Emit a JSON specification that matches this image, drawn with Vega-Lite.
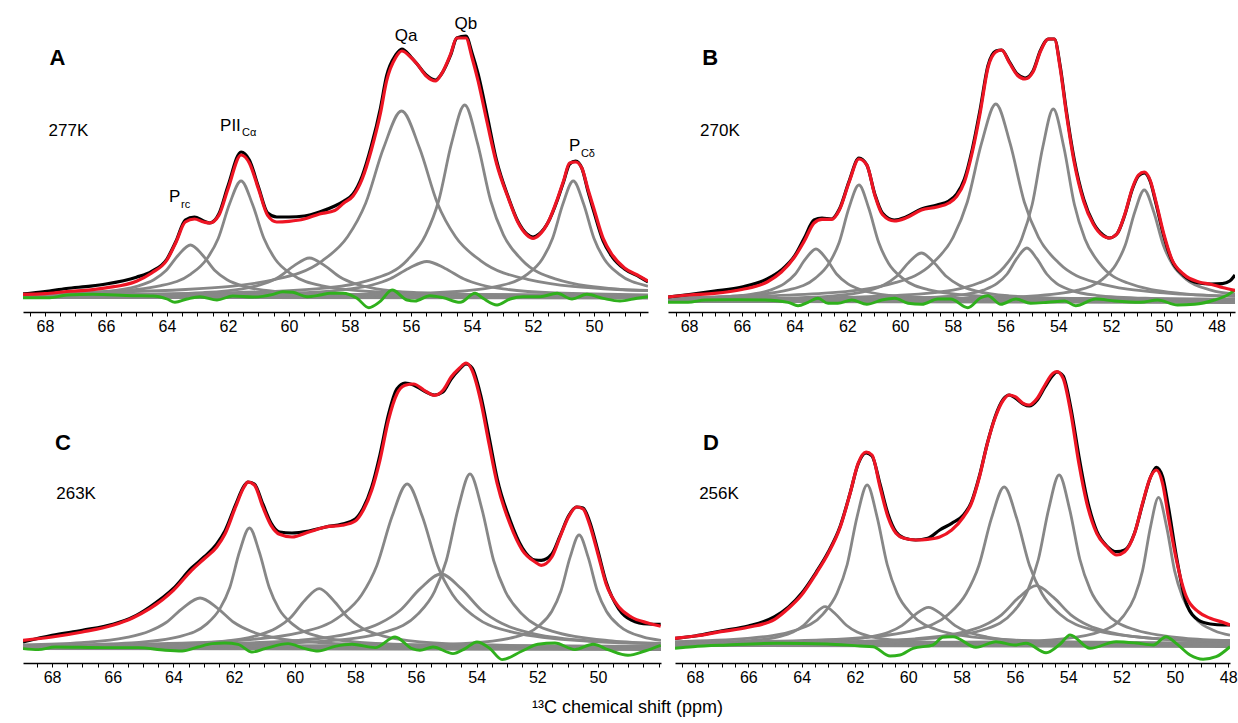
{
"$schema":"https://vega.github.io/schema/vega-lite/v6.json",
"padding":{"left":18,"top":10,"right":0,"bottom":0},
"background":"white",
"config":{"view":{"stroke":null},"font":"Liberation Sans",
"axisX":{"domainColor":"#000","domainWidth":1.3,"tickColor":"#000","tickWidth":1,"tickSize":4,"labelFontSize":16,"labelColor":"#000","labelPadding":2,"grid":false,"title":null,"labelOverlap":false,"labelFlush":false,"labelBound":false,"minExtent":22,"maxExtent":22,"labelFont":"Liberation Sans"}},
"title":{"text":"¹³C chemical shift (ppm)","orient":"bottom","anchor":"middle","fontSize":18,"fontWeight":"normal","font":"Liberation Sans","color":"#000","offset":14},
"spacing":11,
"vconcat":[
{"hconcat":[
{"width":625,"height":302,"data":{"name":"A"},
"encoding":{"x":{"field":"x","type":"quantitative","scale":{"domain":[68.72,48.23],"nice":false,"zero":false},"axis":{"values":[68.5,68,67.5,67,66.5,66,65.5,65,64.5,64,63.5,63,62.5,62,61.5,61,60.5,60,59.5,59,58.5,58,57.5,57,56.5,56,55.5,55,54.5,54,53.5,53,52.5,52,51.5,51,50.5,50,49.5,49,48.5],"labelExpr":"datum.value % 2 === 0 ? '' + datum.value : ''"}},
"y":{"field":"y","type":"quantitative","scale":{"domain":[-16,286],"nice":false,"zero":false},"axis":{"domain":false,"ticks":false,"labels":false,"grid":false,"title":null,"minExtent":5,"maxExtent":5}}},
"layer":[
{"transform":[{"filter":"indexof(datum.s,'g')===0"}],"mark":{"type":"line","color":"#878787","strokeWidth":2.8,"interpolate":"monotone","clip":true},"encoding":{"detail":{"field":"s"}}},
{"transform":[{"filter":"datum.s==='r'"}],"mark":{"type":"line","color":"#2fb01c","strokeWidth":2.9,"interpolate":"monotone","clip":true},"encoding":{}},
{"transform":[{"filter":"datum.s==='e'"}],"mark":{"type":"line","color":"#000000","strokeWidth":3.2,"interpolate":"monotone","clip":true},"encoding":{}},
{"transform":[{"filter":"datum.s==='f'"}],"mark":{"type":"line","color":"#ee1524","strokeWidth":3.2,"interpolate":"monotone","clip":true},"encoding":{}},
{"transform":[{"filter":"datum.s==='L'"}],"mark":{"type":"text","fontSize":22,"fontWeight":"bold","align":"center","baseline":"alphabetic","color":"#000"},"encoding":{"text":{"field":"t"}}},
{"transform":[{"filter":"datum.s==='T' || datum.s==='N'"}],"mark":{"type":"text","fontSize":17,"align":"center","baseline":"alphabetic","color":"#000"},"encoding":{"text":{"field":"t"}}},
{"transform":[{"filter":"datum.s==='M'"}],"mark":{"type":"text","fontSize":17,"align":"left","baseline":"alphabetic","color":"#000"},"encoding":{"text":{"field":"t"}}},
{"transform":[{"filter":"datum.s==='S'"}],"mark":{"type":"text","fontSize":11,"align":"left","baseline":"alphabetic","color":"#000"},"encoding":{"text":{"field":"t"}}}
]},
{"width":567,"height":302,"data":{"name":"B"},
"encoding":{"x":{"field":"x","type":"quantitative","scale":{"domain":[68.8,47.3],"nice":false,"zero":false},"axis":{"values":[68.5,68,67.5,67,66.5,66,65.5,65,64.5,64,63.5,63,62.5,62,61.5,61,60.5,60,59.5,59,58.5,58,57.5,57,56.5,56,55.5,55,54.5,54,53.5,53,52.5,52,51.5,51,50.5,50,49.5,49,48.5,48,47.5],"labelExpr":"datum.value % 2 === 0 ? '' + datum.value : ''"}},
"y":{"field":"y","type":"quantitative","scale":{"domain":[-12,290],"nice":false,"zero":false},"axis":null}},
"layer":[
{"transform":[{"filter":"indexof(datum.s,'g')===0"}],"mark":{"type":"line","color":"#878787","strokeWidth":2.8,"interpolate":"monotone","clip":true},"encoding":{"detail":{"field":"s"}}},
{"transform":[{"filter":"datum.s==='r'"}],"mark":{"type":"line","color":"#2fb01c","strokeWidth":2.9,"interpolate":"monotone","clip":true},"encoding":{}},
{"transform":[{"filter":"datum.s==='e'"}],"mark":{"type":"line","color":"#000000","strokeWidth":3.2,"interpolate":"monotone","clip":true},"encoding":{}},
{"transform":[{"filter":"datum.s==='f'"}],"mark":{"type":"line","color":"#ee1524","strokeWidth":3.2,"interpolate":"monotone","clip":true},"encoding":{}},
{"transform":[{"filter":"datum.s==='L'"}],"mark":{"type":"text","fontSize":22,"fontWeight":"bold","align":"center","baseline":"alphabetic","color":"#000"},"encoding":{"text":{"field":"t"}}},
{"transform":[{"filter":"datum.s==='T'"}],"mark":{"type":"text","fontSize":17,"align":"center","baseline":"alphabetic","color":"#000"},"encoding":{"text":{"field":"t"}}}
]}
],"spacing":20},
{"hconcat":[
{"width":638,"height":318,"data":{"name":"C"},
"encoding":{"x":{"field":"x","type":"quantitative","scale":{"domain":[68.96,47.92],"nice":false,"zero":false},"axis":{"values":[68.5,68,67.5,67,66.5,66,65.5,65,64.5,64,63.5,63,62.5,62,61.5,61,60.5,60,59.5,59,58.5,58,57.5,57,56.5,56,55.5,55,54.5,54,53.5,53,52.5,52,51.5,51,50.5,50,49.5,49,48.5,48],"labelExpr":"datum.value % 2 === 0 && datum.value > 49 ? '' + datum.value : ''"}},
"y":{"field":"y","type":"quantitative","scale":{"domain":[-16,302],"nice":false,"zero":false},"axis":null}},
"layer":[
{"transform":[{"filter":"indexof(datum.s,'g')===0"}],"mark":{"type":"line","color":"#878787","strokeWidth":2.8,"interpolate":"monotone","clip":true},"encoding":{"detail":{"field":"s"}}},
{"transform":[{"filter":"datum.s==='r'"}],"mark":{"type":"line","color":"#2fb01c","strokeWidth":2.9,"interpolate":"monotone","clip":true},"encoding":{}},
{"transform":[{"filter":"datum.s==='e'"}],"mark":{"type":"line","color":"#000000","strokeWidth":3.2,"interpolate":"monotone","clip":true},"encoding":{}},
{"transform":[{"filter":"datum.s==='f'"}],"mark":{"type":"line","color":"#ee1524","strokeWidth":3.2,"interpolate":"monotone","clip":true},"encoding":{}},
{"transform":[{"filter":"datum.s==='L'"}],"mark":{"type":"text","fontSize":22,"fontWeight":"bold","align":"center","baseline":"alphabetic","color":"#000"},"encoding":{"text":{"field":"t"}}},
{"transform":[{"filter":"datum.s==='T'"}],"mark":{"type":"text","fontSize":17,"align":"center","baseline":"alphabetic","color":"#000"},"encoding":{"text":{"field":"t"}}}
]},
{"width":555,"height":318,"data":{"name":"D"},
"encoding":{"x":{"field":"x","type":"quantitative","scale":{"domain":[68.75,47.93],"nice":false,"zero":false},"axis":{"values":[68.5,68,67.5,67,66.5,66,65.5,65,64.5,64,63.5,63,62.5,62,61.5,61,60.5,60,59.5,59,58.5,58,57.5,57,56.5,56,55.5,55,54.5,54,53.5,53,52.5,52,51.5,51,50.5,50,49.5,49,48.5,48],"labelExpr":"datum.value % 2 === 0 ? '' + datum.value : ''"}},
"y":{"field":"y","type":"quantitative","scale":{"domain":[-19,299],"nice":false,"zero":false},"axis":null}},
"layer":[
{"transform":[{"filter":"indexof(datum.s,'g')===0"}],"mark":{"type":"line","color":"#878787","strokeWidth":2.8,"interpolate":"monotone","clip":true},"encoding":{"detail":{"field":"s"}}},
{"transform":[{"filter":"datum.s==='r'"}],"mark":{"type":"line","color":"#2fb01c","strokeWidth":2.9,"interpolate":"monotone","clip":true},"encoding":{}},
{"transform":[{"filter":"datum.s==='e'"}],"mark":{"type":"line","color":"#000000","strokeWidth":3.2,"interpolate":"monotone","clip":true},"encoding":{}},
{"transform":[{"filter":"datum.s==='f'"}],"mark":{"type":"line","color":"#ee1524","strokeWidth":3.2,"interpolate":"monotone","clip":true},"encoding":{}},
{"transform":[{"filter":"datum.s==='L'"}],"mark":{"type":"text","fontSize":22,"fontWeight":"bold","align":"center","baseline":"alphabetic","color":"#000"},"encoding":{"text":{"field":"t"}}},
{"transform":[{"filter":"datum.s==='T'"}],"mark":{"type":"text","fontSize":17,"align":"center","baseline":"alphabetic","color":"#000"},"encoding":{"text":{"field":"t"}}}
]}
],"spacing":14}
],
"datasets":{
"A":[
{"s":"L","t":"A","x":67.59,"y":231},{"s":"T","t":"277K","x":67.23,"y":160},
{"s":"N","t":"Qa","x":56.16,"y":255},{"s":"N","t":"Qb","x":54.2,"y":267},
{"s":"M","t":"PII","x":62.26,"y":165},{"s":"S","t":"Cα","x":61.54,"y":160},
{"s":"M","t":"P","x":63.93,"y":94},{"s":"S","t":"rc","x":63.54,"y":88},
{"s":"M","t":"P","x":50.82,"y":145},{"s":"S","t":"Cδ","x":50.43,"y":139},
{"s":"g0","x":68.72,"y":0},{"s":"g0","x":48.23,"y":0},
{"s":"g8","x":68.72,"y":-1.5},{"s":"g8","x":48.23,"y":-2},
{"s":"g1","x":68.72,"y":1.5},{"s":"g1","x":68.03,"y":1.8},{"s":"g1","x":66.03,"y":4.6},{"s":"g1","x":64.99,"y":9.7},{"s":"g1","x":64.43,"y":16.3},{"s":"g1","x":64.03,"y":25.5},{"s":"g1","x":63.63,"y":40.8},{"s":"g1","x":63.23,"y":51},{"s":"g1","x":62.83,"y":40.8},{"s":"g1","x":62.43,"y":25.5},{"s":"g1","x":62.03,"y":16.3},{"s":"g1","x":61.47,"y":9.7},{"s":"g1","x":60.43,"y":4.6},{"s":"g1","x":58.43,"y":1.8},{"s":"g1","x":55.23,"y":0.7},{"s":"g1","x":48.23,"y":0.2},
{"s":"g2","x":68.72,"y":1.8},{"s":"g2","x":66.07,"y":4.0},{"s":"g2","x":64.2,"y":10.4},{"s":"g2","x":63.22,"y":21.9},{"s":"g2","x":62.7,"y":36.8},{"s":"g2","x":62.32,"y":57.5},{"s":"g2","x":61.95,"y":92},{"s":"g2","x":61.57,"y":115},{"s":"g2","x":61.2,"y":92},{"s":"g2","x":60.82,"y":57.5},{"s":"g2","x":60.45,"y":36.8},{"s":"g2","x":59.92,"y":21.9},{"s":"g2","x":58.95,"y":10.4},{"s":"g2","x":57.07,"y":4.0},{"s":"g2","x":54.07,"y":1.6},{"s":"g2","x":48.23,"y":0.5},
{"s":"g3","x":68.72,"y":0.6},{"s":"g3","x":65.33,"y":1.3},{"s":"g3","x":62.83,"y":3.4},{"s":"g3","x":61.53,"y":7.2},{"s":"g3","x":60.83,"y":12.2},{"s":"g3","x":60.33,"y":19},{"s":"g3","x":59.83,"y":30.4},{"s":"g3","x":59.33,"y":38},{"s":"g3","x":58.83,"y":30.4},{"s":"g3","x":58.33,"y":19},{"s":"g3","x":57.83,"y":12.2},{"s":"g3","x":57.13,"y":7.2},{"s":"g3","x":55.83,"y":3.4},{"s":"g3","x":53.33,"y":1.3},{"s":"g3","x":49.33,"y":0.5},{"s":"g3","x":48.23,"y":0.4},
{"s":"g4","x":68.72,"y":2.4},{"s":"g4","x":68.11,"y":2.6},{"s":"g4","x":63.39,"y":6.5},{"s":"g4","x":60.44,"y":16.7},{"s":"g4","x":58.91,"y":35.2},{"s":"g4","x":58.08,"y":59.2},{"s":"g4","x":57.49,"y":92.5},{"s":"g4","x":56.9,"y":148},{"s":"g4","x":56.31,"y":185},{"s":"g4","x":55.72,"y":148},{"s":"g4","x":55.13,"y":92.5},{"s":"g4","x":54.54,"y":59.2},{"s":"g4","x":53.71,"y":35.2},{"s":"g4","x":52.18,"y":16.7},{"s":"g4","x":49.23,"y":6.5},{"s":"g4","x":48.23,"y":5.5},
{"s":"g5","x":68.72,"y":0.4},{"s":"g5","x":67.48,"y":0.5},{"s":"g5","x":62.68,"y":1.2},{"s":"g5","x":59.68,"y":3.1},{"s":"g5","x":58.12,"y":6.6},{"s":"g5","x":57.28,"y":11},{"s":"g5","x":56.68,"y":17.3},{"s":"g5","x":56.08,"y":27.6},{"s":"g5","x":55.48,"y":34.5},{"s":"g5","x":54.88,"y":27.6},{"s":"g5","x":54.28,"y":17.3},{"s":"g5","x":53.68,"y":11},{"s":"g5","x":52.84,"y":6.6},{"s":"g5","x":51.28,"y":3.1},{"s":"g5","x":48.23,"y":1.2},
{"s":"g6","x":68.72,"y":0.9},{"s":"g6","x":62.74,"y":2.7},{"s":"g6","x":59.34,"y":6.7},{"s":"g6","x":57.22,"y":17.2},{"s":"g6","x":56.11,"y":36.3},{"s":"g6","x":55.52,"y":61.1},{"s":"g6","x":55.09,"y":95.5},{"s":"g6","x":54.67,"y":152.8},{"s":"g6","x":54.24,"y":191},{"s":"g6","x":53.82,"y":152.8},{"s":"g6","x":53.39,"y":95.5},{"s":"g6","x":52.97,"y":61.1},{"s":"g6","x":52.37,"y":36.3},{"s":"g6","x":51.27,"y":17.2},{"s":"g6","x":49.14,"y":6.7},{"s":"g6","x":48.23,"y":5.3},
{"s":"g7","x":68.72,"y":0.2},{"s":"g7","x":57.48,"y":1.6},{"s":"g7","x":54.76,"y":4},{"s":"g7","x":53.06,"y":10.4},{"s":"g7","x":52.18,"y":21.9},{"s":"g7","x":51.7,"y":36.8},{"s":"g7","x":51.36,"y":57.5},{"s":"g7","x":51.02,"y":92},{"s":"g7","x":50.68,"y":115},{"s":"g7","x":50.34,"y":92},{"s":"g7","x":50.0,"y":57.5},{"s":"g7","x":49.66,"y":36.8},{"s":"g7","x":49.18,"y":21.9},{"s":"g7","x":48.3,"y":10.4},{"s":"g7","x":48.23,"y":9.9},
{"s":"r","x":68.72,"y":-1.7},{"s":"r","x":67.84,"y":-1.7},{"s":"r","x":67.29,"y":1},{"s":"r","x":66.43,"y":1.7},{"s":"r","x":65.11,"y":0.3},{"s":"r","x":64.46,"y":0},{"s":"r","x":64.0,"y":-3},{"s":"r","x":63.74,"y":-6.3},{"s":"r","x":63.34,"y":-3},{"s":"r","x":62.92,"y":-0.7},{"s":"r","x":62.36,"y":-4},{"s":"r","x":61.84,"y":0},{"s":"r","x":61.18,"y":-1},{"s":"r","x":60.52,"y":1.7},{"s":"r","x":60.2,"y":4.3},{"s":"r","x":59.87,"y":3.7},{"s":"r","x":59.41,"y":-0.7},{"s":"r","x":58.98,"y":1},{"s":"r","x":58.66,"y":2.7},{"s":"r","x":58.23,"y":2.7},{"s":"r","x":57.77,"y":-2.3},{"s":"r","x":57.38,"y":-11.7},{"s":"r","x":57.02,"y":-5.7},{"s":"r","x":56.62,"y":6},{"s":"r","x":56.13,"y":-4},{"s":"r","x":55.87,"y":-5},{"s":"r","x":55.38,"y":0.3},{"s":"r","x":54.95,"y":-1.7},{"s":"r","x":54.39,"y":-6.3},{"s":"r","x":53.9,"y":2.7},{"s":"r","x":53.64,"y":-2.3},{"s":"r","x":53.18,"y":-9},{"s":"r","x":52.75,"y":-3},{"s":"r","x":52.33,"y":-0.7},{"s":"r","x":51.77,"y":-0.7},{"s":"r","x":51.21,"y":2.7},{"s":"r","x":50.72,"y":-3},{"s":"r","x":50.23,"y":1.7},{"s":"r","x":49.7,"y":-2.3},{"s":"r","x":49.15,"y":-5},{"s":"r","x":48.59,"y":-2.3},{"s":"r","x":48.23,"y":-0.7},
{"s":"e","x":68.72,"y":2},{"s":"e","x":68.0,"y":4.3},{"s":"e","x":67.3,"y":7.5},{"s":"e","x":66.5,"y":9.9},{"s":"e","x":66.0,"y":12},{"s":"e","x":65.0,"y":18.8},{"s":"e","x":64.5,"y":24.6},{"s":"e","x":64.0,"y":37},{"s":"e","x":63.7,"y":55},{"s":"e","x":63.4,"y":76},{"s":"e","x":63.1,"y":79},{"s":"e","x":62.8,"y":75},{"s":"e","x":62.6,"y":73},{"s":"e","x":62.3,"y":82},{"s":"e","x":62.0,"y":110},{"s":"e","x":61.57,"y":144},{"s":"e","x":61.3,"y":136},{"s":"e","x":61.0,"y":109},{"s":"e","x":60.7,"y":83},{"s":"e","x":60.4,"y":79},{"s":"e","x":60.0,"y":79},{"s":"e","x":59.5,"y":80},{"s":"e","x":59.0,"y":84},{"s":"e","x":58.5,"y":90},{"s":"e","x":58.2,"y":95},{"s":"e","x":57.9,"y":102},{"s":"e","x":57.6,"y":120},{"s":"e","x":57.3,"y":150},{"s":"e","x":57.0,"y":188},{"s":"e","x":56.8,"y":220},{"s":"e","x":56.5,"y":241},{"s":"e","x":56.3,"y":247},{"s":"e","x":56.0,"y":239},{"s":"e","x":55.8,"y":232},{"s":"e","x":55.5,"y":221},{"s":"e","x":55.2,"y":216},{"s":"e","x":55.0,"y":222},{"s":"e","x":54.7,"y":241},{"s":"e","x":54.5,"y":258},{"s":"e","x":54.2,"y":260},{"s":"e","x":54.0,"y":243},{"s":"e","x":53.8,"y":222},{"s":"e","x":53.5,"y":180},{"s":"e","x":53.2,"y":136},{"s":"e","x":52.8,"y":98},{"s":"e","x":52.5,"y":75},{"s":"e","x":52.2,"y":62},{"s":"e","x":52.0,"y":59},{"s":"e","x":51.8,"y":62},{"s":"e","x":51.5,"y":74},{"s":"e","x":51.2,"y":96},{"s":"e","x":51.0,"y":114},{"s":"e","x":50.8,"y":132},{"s":"e","x":50.6,"y":135},{"s":"e","x":50.4,"y":128},{"s":"e","x":50.2,"y":105},{"s":"e","x":50.0,"y":84},{"s":"e","x":49.7,"y":55},{"s":"e","x":49.4,"y":39},{"s":"e","x":49.0,"y":27},{"s":"e","x":48.5,"y":19},{"s":"e","x":48.23,"y":14},
{"s":"f","x":68.72,"y":1.6},{"s":"f","x":68.0,"y":2.3},{"s":"f","x":67.3,"y":4.5},{"s":"f","x":66.5,"y":6.2},{"s":"f","x":66.0,"y":8.2},{"s":"f","x":65.0,"y":14.8},{"s":"f","x":64.5,"y":23},{"s":"f","x":64.0,"y":36},{"s":"f","x":63.7,"y":54},{"s":"f","x":63.4,"y":74},{"s":"f","x":63.1,"y":77},{"s":"f","x":62.8,"y":74},{"s":"f","x":62.6,"y":73},{"s":"f","x":62.3,"y":80.6},{"s":"f","x":62.0,"y":107},{"s":"f","x":61.57,"y":141},{"s":"f","x":61.3,"y":133},{"s":"f","x":61.0,"y":107},{"s":"f","x":60.7,"y":80.6},{"s":"f","x":60.4,"y":74},{"s":"f","x":60.0,"y":74.7},{"s":"f","x":59.5,"y":77},{"s":"f","x":59.0,"y":82},{"s":"f","x":58.5,"y":85.5},{"s":"f","x":58.2,"y":93},{"s":"f","x":57.9,"y":100},{"s":"f","x":57.6,"y":117},{"s":"f","x":57.3,"y":146},{"s":"f","x":57.0,"y":183},{"s":"f","x":56.8,"y":215},{"s":"f","x":56.5,"y":238.5},{"s":"f","x":56.3,"y":245},{"s":"f","x":56.0,"y":238.5},{"s":"f","x":55.8,"y":232},{"s":"f","x":55.5,"y":220},{"s":"f","x":55.2,"y":215},{"s":"f","x":55.0,"y":222},{"s":"f","x":54.7,"y":242},{"s":"f","x":54.5,"y":258},{"s":"f","x":54.2,"y":258},{"s":"f","x":54.0,"y":238.5},{"s":"f","x":53.8,"y":215},{"s":"f","x":53.5,"y":173},{"s":"f","x":53.2,"y":133},{"s":"f","x":52.8,"y":97},{"s":"f","x":52.5,"y":74},{"s":"f","x":52.2,"y":61},{"s":"f","x":52.0,"y":57.6},{"s":"f","x":51.8,"y":61},{"s":"f","x":51.5,"y":74},{"s":"f","x":51.2,"y":97},{"s":"f","x":51.0,"y":115},{"s":"f","x":50.8,"y":133},{"s":"f","x":50.6,"y":134},{"s":"f","x":50.4,"y":128},{"s":"f","x":50.2,"y":107},{"s":"f","x":50.0,"y":87},{"s":"f","x":49.7,"y":57.6},{"s":"f","x":49.4,"y":41},{"s":"f","x":49.0,"y":28},{"s":"f","x":48.5,"y":19.7},{"s":"f","x":48.23,"y":14.8}
],
"B":[
{"s":"L","t":"B","x":67.2,"y":235},{"s":"T","t":"270K","x":66.83,"y":164},
{"s":"g0","x":68.8,"y":0},{"s":"g0","x":47.3,"y":0},
{"s":"g8","x":68.8,"y":-1.5},{"s":"g8","x":47.3,"y":-2.5},
{"s":"g1","x":68.8,"y":1.4},{"s":"g1","x":67.99,"y":1.8},{"s":"g1","x":65.99,"y":4.6},{"s":"g1","x":64.95,"y":9.7},{"s":"g1","x":64.39,"y":16.3},{"s":"g1","x":63.99,"y":25.5},{"s":"g1","x":63.59,"y":40.8},{"s":"g1","x":63.19,"y":51},{"s":"g1","x":62.79,"y":40.8},{"s":"g1","x":62.39,"y":25.5},{"s":"g1","x":61.99,"y":16.3},{"s":"g1","x":61.43,"y":9.7},{"s":"g1","x":60.39,"y":4.6},{"s":"g1","x":58.39,"y":1.8},{"s":"g1","x":55.19,"y":0.7},{"s":"g1","x":47.3,"y":0.2},
{"s":"g2","x":68.8,"y":1.7},{"s":"g2","x":66.06,"y":4.0},{"s":"g2","x":64.19,"y":10.4},{"s":"g2","x":63.21,"y":21.9},{"s":"g2","x":62.69,"y":36.8},{"s":"g2","x":62.31,"y":57.5},{"s":"g2","x":61.94,"y":92},{"s":"g2","x":61.56,"y":115},{"s":"g2","x":61.19,"y":92},{"s":"g2","x":60.81,"y":57.5},{"s":"g2","x":60.44,"y":36.8},{"s":"g2","x":59.91,"y":21.9},{"s":"g2","x":58.94,"y":10.4},{"s":"g2","x":57.06,"y":4.0},{"s":"g2","x":54.06,"y":1.6},{"s":"g2","x":47.3,"y":0.5},
{"s":"g3","x":68.8,"y":0.7},{"s":"g3","x":64.89,"y":1.6},{"s":"g3","x":62.52,"y":4.2},{"s":"g3","x":61.28,"y":8.9},{"s":"g3","x":60.62,"y":15},{"s":"g3","x":60.14,"y":23.5},{"s":"g3","x":59.67,"y":37.6},{"s":"g3","x":59.19,"y":47},{"s":"g3","x":58.72,"y":37.6},{"s":"g3","x":58.24,"y":23.5},{"s":"g3","x":57.77,"y":15},{"s":"g3","x":57.1,"y":8.9},{"s":"g3","x":55.87,"y":4.2},{"s":"g3","x":53.49,"y":1.6},{"s":"g3","x":49.69,"y":0.7},{"s":"g3","x":47.3,"y":0.4},
{"s":"g4","x":68.8,"y":2.1},{"s":"g4","x":67.17,"y":2.7},{"s":"g4","x":62.85,"y":6.9},{"s":"g4","x":60.15,"y":17.6},{"s":"g4","x":58.75,"y":37.2},{"s":"g4","x":57.99,"y":62.7},{"s":"g4","x":57.45,"y":98},{"s":"g4","x":56.91,"y":156.8},{"s":"g4","x":56.37,"y":196},{"s":"g4","x":55.83,"y":156.8},{"s":"g4","x":55.29,"y":98},{"s":"g4","x":54.75,"y":62.7},{"s":"g4","x":53.99,"y":37.2},{"s":"g4","x":52.59,"y":17.6},{"s":"g4","x":49.89,"y":6.9},{"s":"g4","x":47.3,"y":3.9},
{"s":"g5","x":68.8,"y":0.2},{"s":"g5","x":62.69,"y":0.7},{"s":"g5","x":59.69,"y":1.8},{"s":"g5","x":57.82,"y":4.7},{"s":"g5","x":56.84,"y":9.9},{"s":"g5","x":56.32,"y":16.6},{"s":"g5","x":55.94,"y":26},{"s":"g5","x":55.57,"y":41.6},{"s":"g5","x":55.19,"y":52},{"s":"g5","x":54.82,"y":41.6},{"s":"g5","x":54.44,"y":26},{"s":"g5","x":54.07,"y":16.6},{"s":"g5","x":53.54,"y":9.9},{"s":"g5","x":52.57,"y":4.7},{"s":"g5","x":50.69,"y":1.8},{"s":"g5","x":47.69,"y":0.7},{"s":"g5","x":47.3,"y":0.6},
{"s":"g6","x":68.8,"y":0.8},{"s":"g6","x":62.19,"y":2.7},{"s":"g6","x":58.99,"y":6.7},{"s":"g6","x":56.99,"y":17.2},{"s":"g6","x":55.95,"y":36.3},{"s":"g6","x":55.39,"y":61.1},{"s":"g6","x":54.99,"y":95.5},{"s":"g6","x":54.59,"y":152.8},{"s":"g6","x":54.19,"y":191},{"s":"g6","x":53.79,"y":152.8},{"s":"g6","x":53.39,"y":95.5},{"s":"g6","x":52.99,"y":61.1},{"s":"g6","x":52.43,"y":36.3},{"s":"g6","x":51.39,"y":17.2},{"s":"g6","x":49.39,"y":6.7},{"s":"g6","x":47.3,"y":3.6},
{"s":"g7","x":68.8,"y":0.2},{"s":"g7","x":57.94,"y":1.5},{"s":"g7","x":55.06,"y":3.9},{"s":"g7","x":53.26,"y":9.9},{"s":"g7","x":52.32,"y":20.9},{"s":"g7","x":51.82,"y":35.2},{"s":"g7","x":51.46,"y":55},{"s":"g7","x":51.1,"y":88},{"s":"g7","x":50.74,"y":110},{"s":"g7","x":50.38,"y":88},{"s":"g7","x":50.02,"y":55},{"s":"g7","x":49.66,"y":35.2},{"s":"g7","x":49.16,"y":20.9},{"s":"g7","x":48.22,"y":9.9},{"s":"g7","x":47.3,"y":6},
{"s":"r","x":68.8,"y":-2.3},{"s":"r","x":68.04,"y":-2.3},{"s":"r","x":67.39,"y":0},{"s":"r","x":66.14,"y":0.3},{"s":"r","x":65.12,"y":0},{"s":"r","x":64.25,"y":-2.3},{"s":"r","x":63.87,"y":-5.7},{"s":"r","x":63.49,"y":-2.3},{"s":"r","x":63.11,"y":1.7},{"s":"r","x":62.73,"y":-3.3},{"s":"r","x":62.36,"y":-3.3},{"s":"r","x":61.83,"y":0},{"s":"r","x":61.26,"y":-4.3},{"s":"r","x":60.69,"y":0},{"s":"r","x":60.2,"y":1.7},{"s":"r","x":59.7,"y":-3.3},{"s":"r","x":59.17,"y":-4.3},{"s":"r","x":58.57,"y":1},{"s":"r","x":58.08,"y":1},{"s":"r","x":57.43,"y":-7.7},{"s":"r","x":56.94,"y":2.3},{"s":"r","x":56.67,"y":4.3},{"s":"r","x":56.18,"y":-4.3},{"s":"r","x":55.61,"y":1},{"s":"r","x":55.05,"y":-3.3},{"s":"r","x":54.4,"y":-2.3},{"s":"r","x":53.76,"y":-1},{"s":"r","x":53.34,"y":-5.7},{"s":"r","x":52.58,"y":1},{"s":"r","x":51.86,"y":-1},{"s":"r","x":50.88,"y":-2.3},{"s":"r","x":50.23,"y":0},{"s":"r","x":49.48,"y":-5},{"s":"r","x":48.83,"y":-4.3},{"s":"r","x":48.08,"y":0},{"s":"r","x":47.58,"y":5},{"s":"r","x":47.3,"y":10},
{"s":"e","x":68.8,"y":3},{"s":"e","x":68.0,"y":5.5},{"s":"e","x":67.04,"y":8.9},{"s":"e","x":66.0,"y":13},{"s":"e","x":65.04,"y":21},{"s":"e","x":64.5,"y":30},{"s":"e","x":64.0,"y":44},{"s":"e","x":63.63,"y":62},{"s":"e","x":63.26,"y":80},{"s":"e","x":62.96,"y":82},{"s":"e","x":62.6,"y":81},{"s":"e","x":62.3,"y":91},{"s":"e","x":61.93,"y":119},{"s":"e","x":61.56,"y":142},{"s":"e","x":61.26,"y":135},{"s":"e","x":60.96,"y":106},{"s":"e","x":60.67,"y":87},{"s":"e","x":60.22,"y":80},{"s":"e","x":59.78,"y":83},{"s":"e","x":59.19,"y":91},{"s":"e","x":58.6,"y":95},{"s":"e","x":58.15,"y":99},{"s":"e","x":57.85,"y":106},{"s":"e","x":57.56,"y":121},{"s":"e","x":57.26,"y":151},{"s":"e","x":56.96,"y":191},{"s":"e","x":56.67,"y":234},{"s":"e","x":56.37,"y":249},{"s":"e","x":56.15,"y":250},{"s":"e","x":55.85,"y":238},{"s":"e","x":55.56,"y":226},{"s":"e","x":55.26,"y":222},{"s":"e","x":54.96,"y":229},{"s":"e","x":54.67,"y":250},{"s":"e","x":54.37,"y":261},{"s":"e","x":54.15,"y":261},{"s":"e","x":53.93,"y":234},{"s":"e","x":53.7,"y":190},{"s":"e","x":53.4,"y":141},{"s":"e","x":53.04,"y":101},{"s":"e","x":52.67,"y":77},{"s":"e","x":52.3,"y":65},{"s":"e","x":52.07,"y":62},{"s":"e","x":51.78,"y":66},{"s":"e","x":51.48,"y":85},{"s":"e","x":51.19,"y":111},{"s":"e","x":50.96,"y":124},{"s":"e","x":50.74,"y":127},{"s":"e","x":50.52,"y":119},{"s":"e","x":50.3,"y":97},{"s":"e","x":50.0,"y":64},{"s":"e","x":49.7,"y":40},{"s":"e","x":49.26,"y":25},{"s":"e","x":48.67,"y":17},{"s":"e","x":48.22,"y":16},{"s":"e","x":47.78,"y":16.4},{"s":"e","x":47.5,"y":19},{"s":"e","x":47.3,"y":25},
{"s":"f","x":68.8,"y":3},{"s":"f","x":68.0,"y":5},{"s":"f","x":67.04,"y":6.6},{"s":"f","x":66.0,"y":10.5},{"s":"f","x":65.04,"y":18},{"s":"f","x":64.5,"y":28},{"s":"f","x":64.0,"y":43},{"s":"f","x":63.63,"y":59},{"s":"f","x":63.26,"y":77},{"s":"f","x":62.96,"y":80.6},{"s":"f","x":62.6,"y":80.6},{"s":"f","x":62.3,"y":90},{"s":"f","x":61.93,"y":118},{"s":"f","x":61.56,"y":141},{"s":"f","x":61.26,"y":135},{"s":"f","x":60.96,"y":105},{"s":"f","x":60.67,"y":85.5},{"s":"f","x":60.22,"y":79},{"s":"f","x":59.78,"y":82},{"s":"f","x":59.19,"y":90},{"s":"f","x":58.6,"y":93},{"s":"f","x":58.15,"y":97},{"s":"f","x":57.85,"y":103.6},{"s":"f","x":57.56,"y":118},{"s":"f","x":57.26,"y":148},{"s":"f","x":56.96,"y":187.5},{"s":"f","x":56.67,"y":232},{"s":"f","x":56.37,"y":248},{"s":"f","x":56.15,"y":250},{"s":"f","x":55.85,"y":237},{"s":"f","x":55.56,"y":225},{"s":"f","x":55.26,"y":221},{"s":"f","x":54.96,"y":228},{"s":"f","x":54.67,"y":249},{"s":"f","x":54.37,"y":261},{"s":"f","x":54.15,"y":261},{"s":"f","x":53.93,"y":232},{"s":"f","x":53.7,"y":187.5},{"s":"f","x":53.4,"y":138},{"s":"f","x":53.04,"y":98.7},{"s":"f","x":52.67,"y":75.7},{"s":"f","x":52.3,"y":64},{"s":"f","x":52.07,"y":62},{"s":"f","x":51.78,"y":66},{"s":"f","x":51.48,"y":85.5},{"s":"f","x":51.19,"y":112},{"s":"f","x":50.96,"y":125},{"s":"f","x":50.74,"y":128},{"s":"f","x":50.52,"y":120},{"s":"f","x":50.3,"y":98.7},{"s":"f","x":50.0,"y":66},{"s":"f","x":49.7,"y":41},{"s":"f","x":49.26,"y":26},{"s":"f","x":48.67,"y":18},{"s":"f","x":48.22,"y":15.8},{"s":"f","x":47.78,"y":12.5},{"s":"f","x":47.3,"y":9.5}
],
"C":[
{"s":"L","t":"C","x":67.64,"y":197},{"s":"T","t":"263K","x":67.21,"y":148},
{"s":"g0","x":68.96,"y":0},{"s":"g0","x":47.92,"y":0},
{"s":"g8","x":68.96,"y":-1.5},{"s":"g8","x":47.92,"y":-2.5},
{"s":"g1","x":68.96,"y":2.2},{"s":"g1","x":67.04,"y":4.4},{"s":"g1","x":65.58,"y":9.3},{"s":"g1","x":64.8,"y":15.7},{"s":"g1","x":64.24,"y":24.5},{"s":"g1","x":63.68,"y":39.2},{"s":"g1","x":63.12,"y":49},{"s":"g1","x":62.56,"y":39.2},{"s":"g1","x":62.0,"y":24.5},{"s":"g1","x":61.44,"y":15.7},{"s":"g1","x":60.66,"y":9.3},{"s":"g1","x":59.2,"y":4.4},{"s":"g1","x":56.4,"y":1.7},{"s":"g1","x":51.92,"y":0.7},{"s":"g1","x":47.92,"y":0.4},
{"s":"g2","x":68.96,"y":1.3},{"s":"g2","x":67.99,"y":1.7},{"s":"g2","x":65.39,"y":4.2},{"s":"g2","x":63.77,"y":10.7},{"s":"g2","x":62.92,"y":22.6},{"s":"g2","x":62.47,"y":38.1},{"s":"g2","x":62.14,"y":59.5},{"s":"g2","x":61.82,"y":95.2},{"s":"g2","x":61.49,"y":119},{"s":"g2","x":61.17,"y":95.2},{"s":"g2","x":60.84,"y":59.5},{"s":"g2","x":60.52,"y":38.1},{"s":"g2","x":60.06,"y":22.6},{"s":"g2","x":59.22,"y":10.7},{"s":"g2","x":57.59,"y":4.2},{"s":"g2","x":54.99,"y":1.7},{"s":"g2","x":47.92,"y":0.4},
{"s":"g3","x":68.96,"y":0.8},{"s":"g3","x":64.89,"y":2.0},{"s":"g3","x":62.52,"y":5.2},{"s":"g3","x":61.28,"y":11.1},{"s":"g3","x":60.62,"y":18.7},{"s":"g3","x":60.14,"y":29.2},{"s":"g3","x":59.67,"y":46.6},{"s":"g3","x":59.19,"y":58.3},{"s":"g3","x":58.72,"y":46.6},{"s":"g3","x":58.24,"y":29.2},{"s":"g3","x":57.77,"y":18.7},{"s":"g3","x":57.1,"y":11.1},{"s":"g3","x":55.87,"y":5.2},{"s":"g3","x":53.49,"y":2.0},{"s":"g3","x":49.69,"y":0.8},{"s":"g3","x":47.92,"y":0.6},
{"s":"g4","x":68.96,"y":1.4},{"s":"g4","x":66.29,"y":2.3},{"s":"g4","x":62.29,"y":5.7},{"s":"g4","x":59.79,"y":14.7},{"s":"g4","x":58.49,"y":31},{"s":"g4","x":57.79,"y":52.2},{"s":"g4","x":57.29,"y":81.5},{"s":"g4","x":56.79,"y":130.4},{"s":"g4","x":56.29,"y":163},{"s":"g4","x":55.79,"y":130.4},{"s":"g4","x":55.29,"y":81.5},{"s":"g4","x":54.79,"y":52.2},{"s":"g4","x":54.09,"y":31},{"s":"g4","x":52.79,"y":14.7},{"s":"g4","x":50.29,"y":5.7},{"s":"g4","x":47.92,"y":3.3},
{"s":"g5","x":68.96,"y":0.9},{"s":"g5","x":68.68,"y":1.0},{"s":"g5","x":63.28,"y":2.6},{"s":"g5","x":59.91,"y":6.6},{"s":"g5","x":58.15,"y":13.9},{"s":"g5","x":57.21,"y":23.4},{"s":"g5","x":56.53,"y":36.5},{"s":"g5","x":55.86,"y":58.4},{"s":"g5","x":55.18,"y":73},{"s":"g5","x":54.51,"y":58.4},{"s":"g5","x":53.83,"y":36.5},{"s":"g5","x":53.16,"y":23.4},{"s":"g5","x":52.21,"y":13.9},{"s":"g5","x":50.46,"y":6.6},{"s":"g5","x":47.92,"y":3.3},
{"s":"g6","x":68.96,"y":0.7},{"s":"g6","x":62.02,"y":2.4},{"s":"g6","x":58.9,"y":6.1},{"s":"g6","x":56.95,"y":15.6},{"s":"g6","x":55.94,"y":32.9},{"s":"g6","x":55.39,"y":55.4},{"s":"g6","x":55.0,"y":86.5},{"s":"g6","x":54.61,"y":138.4},{"s":"g6","x":54.22,"y":173},{"s":"g6","x":53.83,"y":138.4},{"s":"g6","x":53.44,"y":86.5},{"s":"g6","x":53.05,"y":55.4},{"s":"g6","x":52.5,"y":32.9},{"s":"g6","x":51.49,"y":15.6},{"s":"g6","x":49.54,"y":6.1},{"s":"g6","x":47.92,"y":3.7},
{"s":"g7","x":68.96,"y":0.2},{"s":"g7","x":56.62,"y":1.6},{"s":"g7","x":54.22,"y":3.9},{"s":"g7","x":52.72,"y":10.1},{"s":"g7","x":51.94,"y":21.3},{"s":"g7","x":51.52,"y":35.8},{"s":"g7","x":51.22,"y":56},{"s":"g7","x":50.92,"y":89.6},{"s":"g7","x":50.62,"y":112},{"s":"g7","x":50.32,"y":89.6},{"s":"g7","x":50.02,"y":56},{"s":"g7","x":49.72,"y":35.8},{"s":"g7","x":49.3,"y":21.3},{"s":"g7","x":48.52,"y":10.1},{"s":"g7","x":47.92,"y":6.7},
{"s":"r","x":68.96,"y":-1.6},{"s":"r","x":68.46,"y":-2.6},{"s":"r","x":67.9,"y":0},{"s":"r","x":66.25,"y":-0.6},{"s":"r","x":65.16,"y":-0.6},{"s":"r","x":64.27,"y":-3.3},{"s":"r","x":63.71,"y":-4},{"s":"r","x":63.19,"y":0},{"s":"r","x":62.72,"y":3.4},{"s":"r","x":62.3,"y":4},{"s":"r","x":61.87,"y":2.7},{"s":"r","x":61.41,"y":-5},{"s":"r","x":60.98,"y":-1.6},{"s":"r","x":60.22,"y":3.4},{"s":"r","x":59.66,"y":-1.6},{"s":"r","x":59.23,"y":-4},{"s":"r","x":58.67,"y":0.7},{"s":"r","x":58.11,"y":2.7},{"s":"r","x":57.35,"y":-0.6},{"s":"r","x":56.69,"y":10},{"s":"r","x":56.13,"y":-1.6},{"s":"r","x":55.87,"y":-3.3},{"s":"r","x":55.44,"y":0},{"s":"r","x":54.78,"y":-6.6},{"s":"r","x":54.38,"y":-1.6},{"s":"r","x":53.99,"y":5},{"s":"r","x":53.56,"y":-1.6},{"s":"r","x":53.16,"y":-12.6},{"s":"r","x":52.5,"y":-4},{"s":"r","x":51.98,"y":2.7},{"s":"r","x":51.42,"y":4},{"s":"r","x":50.76,"y":-2.6},{"s":"r","x":50.16,"y":2.7},{"s":"r","x":49.67,"y":-2.6},{"s":"r","x":49.01,"y":-8.3},{"s":"r","x":48.45,"y":-4},{"s":"r","x":47.93,"y":1.7},
{"s":"e","x":68.96,"y":5},{"s":"e","x":68.0,"y":11.7},{"s":"e","x":67.0,"y":16.7},{"s":"e","x":66.0,"y":22.7},{"s":"e","x":65.33,"y":30},{"s":"e","x":64.78,"y":40},{"s":"e","x":64.0,"y":58.5},{"s":"e","x":63.4,"y":79},{"s":"e","x":62.99,"y":90},{"s":"e","x":62.57,"y":103},{"s":"e","x":62.3,"y":116},{"s":"e","x":61.95,"y":142},{"s":"e","x":61.67,"y":161},{"s":"e","x":61.54,"y":165},{"s":"e","x":61.33,"y":163},{"s":"e","x":61.05,"y":143},{"s":"e","x":60.78,"y":124},{"s":"e","x":60.5,"y":115},{"s":"e","x":60.09,"y":114},{"s":"e","x":59.53,"y":116},{"s":"e","x":58.98,"y":120},{"s":"e","x":58.43,"y":123},{"s":"e","x":58.0,"y":128},{"s":"e","x":57.74,"y":139},{"s":"e","x":57.46,"y":160},{"s":"e","x":57.19,"y":192},{"s":"e","x":56.91,"y":232},{"s":"e","x":56.63,"y":258},{"s":"e","x":56.36,"y":264},{"s":"e","x":56.08,"y":262},{"s":"e","x":55.73,"y":256},{"s":"e","x":55.39,"y":252},{"s":"e","x":55.11,"y":255},{"s":"e","x":54.84,"y":268},{"s":"e","x":54.56,"y":278},{"s":"e","x":54.35,"y":283},{"s":"e","x":54.15,"y":279},{"s":"e","x":53.87,"y":252},{"s":"e","x":53.59,"y":210},{"s":"e","x":53.32,"y":168},{"s":"e","x":52.9,"y":127},{"s":"e","x":52.49,"y":99},{"s":"e","x":52.07,"y":87},{"s":"e","x":51.87,"y":86.7},{"s":"e","x":51.52,"y":93},{"s":"e","x":51.25,"y":111},{"s":"e","x":50.97,"y":131},{"s":"e","x":50.7,"y":140},{"s":"e","x":50.49,"y":139},{"s":"e","x":50.28,"y":126},{"s":"e","x":50.0,"y":96},{"s":"e","x":49.73,"y":65},{"s":"e","x":49.31,"y":38},{"s":"e","x":48.9,"y":27},{"s":"e","x":48.35,"y":23},{"s":"e","x":47.93,"y":22.7},
{"s":"f","x":68.96,"y":6.7},{"s":"f","x":68.0,"y":10},{"s":"f","x":67.0,"y":15},{"s":"f","x":66.0,"y":21.7},{"s":"f","x":65.33,"y":29.3},{"s":"f","x":64.78,"y":38.3},{"s":"f","x":64.0,"y":56.7},{"s":"f","x":63.4,"y":76.7},{"s":"f","x":62.99,"y":88},{"s":"f","x":62.57,"y":100},{"s":"f","x":62.3,"y":113},{"s":"f","x":61.95,"y":140},{"s":"f","x":61.67,"y":160},{"s":"f","x":61.54,"y":165},{"s":"f","x":61.33,"y":162},{"s":"f","x":61.05,"y":140},{"s":"f","x":60.78,"y":121.7},{"s":"f","x":60.5,"y":112.7},{"s":"f","x":60.09,"y":110},{"s":"f","x":59.53,"y":115},{"s":"f","x":58.98,"y":120},{"s":"f","x":58.43,"y":121.7},{"s":"f","x":58.0,"y":126},{"s":"f","x":57.74,"y":136.7},{"s":"f","x":57.46,"y":156.7},{"s":"f","x":57.19,"y":186.7},{"s":"f","x":56.91,"y":226.7},{"s":"f","x":56.63,"y":253},{"s":"f","x":56.36,"y":261.7},{"s":"f","x":56.08,"y":263},{"s":"f","x":55.73,"y":256.7},{"s":"f","x":55.39,"y":251.7},{"s":"f","x":55.11,"y":256.7},{"s":"f","x":54.84,"y":270},{"s":"f","x":54.56,"y":279},{"s":"f","x":54.35,"y":284},{"s":"f","x":54.15,"y":276.7},{"s":"f","x":53.87,"y":246.7},{"s":"f","x":53.59,"y":203},{"s":"f","x":53.32,"y":163},{"s":"f","x":52.9,"y":123},{"s":"f","x":52.49,"y":96.7},{"s":"f","x":52.07,"y":85},{"s":"f","x":51.87,"y":81.7},{"s":"f","x":51.52,"y":90},{"s":"f","x":51.25,"y":110},{"s":"f","x":50.97,"y":130},{"s":"f","x":50.7,"y":140},{"s":"f","x":50.49,"y":138},{"s":"f","x":50.28,"y":123},{"s":"f","x":50.0,"y":93},{"s":"f","x":49.73,"y":63},{"s":"f","x":49.31,"y":40},{"s":"f","x":48.9,"y":30},{"s":"f","x":48.35,"y":24},{"s":"f","x":47.93,"y":20.7}
],
"D":[
{"s":"L","t":"D","x":67.4,"y":194},{"s":"T","t":"256K","x":67.1,"y":145},
{"s":"g0","x":68.75,"y":0},{"s":"g0","x":47.93,"y":0},
{"s":"g8","x":68.75,"y":-1.5},{"s":"g8","x":47.93,"y":-2.5},
{"s":"g1","x":68.75,"y":1.0},{"s":"g1","x":67.92,"y":1.3},{"s":"g1","x":65.92,"y":3.4},{"s":"g1","x":64.88,"y":7.1},{"s":"g1","x":64.32,"y":11.9},{"s":"g1","x":63.92,"y":18.7},{"s":"g1","x":63.52,"y":29.8},{"s":"g1","x":63.12,"y":37.3},{"s":"g1","x":62.72,"y":29.8},{"s":"g1","x":62.32,"y":18.7},{"s":"g1","x":61.92,"y":11.9},{"s":"g1","x":61.36,"y":7.1},{"s":"g1","x":60.32,"y":3.4},{"s":"g1","x":58.32,"y":1.3},{"s":"g1","x":55.12,"y":0.5},{"s":"g1","x":47.93,"y":0.1},
{"s":"g2","x":68.75,"y":2.4},{"s":"g2","x":66.04,"y":5.6},{"s":"g2","x":64.17,"y":14.3},{"s":"g2","x":63.19,"y":30.2},{"s":"g2","x":62.67,"y":50.9},{"s":"g2","x":62.29,"y":79.5},{"s":"g2","x":61.92,"y":127.2},{"s":"g2","x":61.54,"y":159},{"s":"g2","x":61.17,"y":127.2},{"s":"g2","x":60.79,"y":79.5},{"s":"g2","x":60.42,"y":50.9},{"s":"g2","x":59.89,"y":30.2},{"s":"g2","x":58.92,"y":14.3},{"s":"g2","x":57.04,"y":5.6},{"s":"g2","x":54.04,"y":2.2},{"s":"g2","x":47.93,"y":0.7},
{"s":"g3","x":68.75,"y":0.6},{"s":"g3","x":65.24,"y":1.3},{"s":"g3","x":62.74,"y":3.3},{"s":"g3","x":61.44,"y":7.0},{"s":"g3","x":60.74,"y":11.7},{"s":"g3","x":60.24,"y":18.4},{"s":"g3","x":59.74,"y":29.4},{"s":"g3","x":59.24,"y":36.7},{"s":"g3","x":58.74,"y":29.4},{"s":"g3","x":58.24,"y":18.4},{"s":"g3","x":57.74,"y":11.7},{"s":"g3","x":57.04,"y":7.0},{"s":"g3","x":55.74,"y":3.3},{"s":"g3","x":53.24,"y":1.3},{"s":"g3","x":49.24,"y":0.5},{"s":"g3","x":47.93,"y":0.4},
{"s":"g4","x":68.75,"y":1.3},{"s":"g4","x":65.9,"y":2.2},{"s":"g4","x":62.1,"y":5.5},{"s":"g4","x":59.73,"y":14.1},{"s":"g4","x":58.49,"y":29.8},{"s":"g4","x":57.83,"y":50.2},{"s":"g4","x":57.35,"y":78.5},{"s":"g4","x":56.88,"y":125.6},{"s":"g4","x":56.4,"y":157},{"s":"g4","x":55.93,"y":125.6},{"s":"g4","x":55.45,"y":78.5},{"s":"g4","x":54.98,"y":50.2},{"s":"g4","x":54.31,"y":29.8},{"s":"g4","x":53.08,"y":14.1},{"s":"g4","x":50.7,"y":5.5},{"s":"g4","x":47.93,"y":2.8},
{"s":"g5","x":68.75,"y":0.7},{"s":"g5","x":68.2,"y":0.8},{"s":"g5","x":63.0,"y":2.0},{"s":"g5","x":59.75,"y":5.2},{"s":"g5","x":58.06,"y":11.1},{"s":"g5","x":57.15,"y":18.7},{"s":"g5","x":56.5,"y":29.2},{"s":"g5","x":55.85,"y":46.6},{"s":"g5","x":55.2,"y":58.3},{"s":"g5","x":54.55,"y":46.6},{"s":"g5","x":53.9,"y":29.2},{"s":"g5","x":53.25,"y":18.7},{"s":"g5","x":52.34,"y":11.1},{"s":"g5","x":50.65,"y":5.2},{"s":"g5","x":47.93,"y":2.4},
{"s":"g6","x":68.75,"y":0.7},{"s":"g6","x":62.14,"y":2.4},{"s":"g6","x":59.02,"y":5.9},{"s":"g6","x":57.07,"y":15.2},{"s":"g6","x":56.06,"y":32.1},{"s":"g6","x":55.51,"y":54.1},{"s":"g6","x":55.12,"y":84.5},{"s":"g6","x":54.73,"y":135.2},{"s":"g6","x":54.34,"y":169},{"s":"g6","x":53.95,"y":135.2},{"s":"g6","x":53.56,"y":84.5},{"s":"g6","x":53.17,"y":54.1},{"s":"g6","x":52.62,"y":32.1},{"s":"g6","x":51.61,"y":15.2},{"s":"g6","x":49.66,"y":5.9},{"s":"g6","x":47.93,"y":3.5},
{"s":"g7","x":68.75,"y":0.2},{"s":"g7","x":56.61,"y":2.1},{"s":"g7","x":54.21,"y":5.1},{"s":"g7","x":52.71,"y":13.2},{"s":"g7","x":51.93,"y":27.9},{"s":"g7","x":51.51,"y":46.9},{"s":"g7","x":51.21,"y":73.4},{"s":"g7","x":50.91,"y":117.4},{"s":"g7","x":50.61,"y":146.7},{"s":"g7","x":50.31,"y":117.4},{"s":"g7","x":50.01,"y":73.4},{"s":"g7","x":49.71,"y":46.9},{"s":"g7","x":49.29,"y":27.9},{"s":"g7","x":48.51,"y":13.2},{"s":"g7","x":47.93,"y":8.8},
{"s":"r","x":68.75,"y":-4.3},{"s":"r","x":68.08,"y":-2.7},{"s":"r","x":66.8,"y":-1},{"s":"r","x":64.92,"y":0.7},{"s":"r","x":63.05,"y":0},{"s":"r","x":61.81,"y":-2},{"s":"r","x":61.32,"y":-2.7},{"s":"r","x":60.68,"y":-12},{"s":"r","x":60.31,"y":-11},{"s":"r","x":59.82,"y":-4.3},{"s":"r","x":59.07,"y":-1},{"s":"r","x":58.69,"y":7},{"s":"r","x":58.32,"y":7.3},{"s":"r","x":57.46,"y":-3.3},{"s":"r","x":56.71,"y":2.3},{"s":"r","x":56.0,"y":-1},{"s":"r","x":55.58,"y":0.7},{"s":"r","x":54.83,"y":-8.7},{"s":"r","x":54.3,"y":0},{"s":"r","x":53.93,"y":9},{"s":"r","x":53.18,"y":-4.3},{"s":"r","x":52.2,"y":2.3},{"s":"r","x":51.45,"y":1},{"s":"r","x":50.81,"y":-1},{"s":"r","x":50.33,"y":7.3},{"s":"r","x":49.95,"y":0.7},{"s":"r","x":49.43,"y":-11},{"s":"r","x":48.94,"y":-15.3},{"s":"r","x":48.45,"y":-12.7},{"s":"r","x":47.93,"y":-2.7},
{"s":"e","x":68.75,"y":5.7},{"s":"e","x":68.0,"y":8},{"s":"e","x":67.03,"y":13},{"s":"e","x":66.0,"y":18},{"s":"e","x":65.01,"y":27.3},{"s":"e","x":64.49,"y":37},{"s":"e","x":64.0,"y":50.7},{"s":"e","x":63.45,"y":72},{"s":"e","x":63.0,"y":92},{"s":"e","x":62.55,"y":118},{"s":"e","x":62.18,"y":151},{"s":"e","x":61.88,"y":180},{"s":"e","x":61.58,"y":191},{"s":"e","x":61.36,"y":188},{"s":"e","x":61.06,"y":160},{"s":"e","x":60.76,"y":130},{"s":"e","x":60.46,"y":112},{"s":"e","x":60.16,"y":106},{"s":"e","x":59.72,"y":104},{"s":"e","x":59.27,"y":105.7},{"s":"e","x":58.82,"y":114},{"s":"e","x":58.37,"y":120.7},{"s":"e","x":57.93,"y":129},{"s":"e","x":57.63,"y":142},{"s":"e","x":57.33,"y":168},{"s":"e","x":57.03,"y":201},{"s":"e","x":56.73,"y":228},{"s":"e","x":56.43,"y":245},{"s":"e","x":56.21,"y":249},{"s":"e","x":55.99,"y":246},{"s":"e","x":55.69,"y":240},{"s":"e","x":55.46,"y":238},{"s":"e","x":55.16,"y":244},{"s":"e","x":54.87,"y":257},{"s":"e","x":54.57,"y":269},{"s":"e","x":54.42,"y":272},{"s":"e","x":54.19,"y":268},{"s":"e","x":53.9,"y":236},{"s":"e","x":53.6,"y":188},{"s":"e","x":53.3,"y":146},{"s":"e","x":52.93,"y":113},{"s":"e","x":52.55,"y":98},{"s":"e","x":52.18,"y":92.3},{"s":"e","x":51.88,"y":94},{"s":"e","x":51.51,"y":111},{"s":"e","x":51.21,"y":140},{"s":"e","x":50.91,"y":167},{"s":"e","x":50.69,"y":176.7},{"s":"e","x":50.46,"y":167.3},{"s":"e","x":50.24,"y":137},{"s":"e","x":49.94,"y":87.3},{"s":"e","x":49.57,"y":40.7},{"s":"e","x":49.12,"y":24},{"s":"e","x":48.67,"y":20},{"s":"e","x":48.15,"y":19},{"s":"e","x":47.93,"y":19},
{"s":"f","x":68.75,"y":5.7},{"s":"f","x":68.0,"y":8},{"s":"f","x":67.03,"y":12.3},{"s":"f","x":66.0,"y":16.7},{"s":"f","x":65.01,"y":24.7},{"s":"f","x":64.49,"y":35.7},{"s":"f","x":64.0,"y":49},{"s":"f","x":63.45,"y":70.7},{"s":"f","x":63.0,"y":90.7},{"s":"f","x":62.55,"y":117},{"s":"f","x":62.18,"y":150.7},{"s":"f","x":61.88,"y":180.7},{"s":"f","x":61.58,"y":192},{"s":"f","x":61.36,"y":189},{"s":"f","x":61.06,"y":157},{"s":"f","x":60.76,"y":127},{"s":"f","x":60.46,"y":110.7},{"s":"f","x":60.16,"y":105.7},{"s":"f","x":59.72,"y":104},{"s":"f","x":59.27,"y":104.7},{"s":"f","x":58.82,"y":107},{"s":"f","x":58.37,"y":114},{"s":"f","x":57.93,"y":127},{"s":"f","x":57.63,"y":140.7},{"s":"f","x":57.33,"y":167},{"s":"f","x":57.03,"y":200.7},{"s":"f","x":56.73,"y":227},{"s":"f","x":56.43,"y":244},{"s":"f","x":56.21,"y":249},{"s":"f","x":55.99,"y":247.3},{"s":"f","x":55.69,"y":240.7},{"s":"f","x":55.46,"y":239},{"s":"f","x":55.16,"y":245.7},{"s":"f","x":54.87,"y":259},{"s":"f","x":54.57,"y":270.7},{"s":"f","x":54.42,"y":272.3},{"s":"f","x":54.19,"y":265.7},{"s":"f","x":53.9,"y":230.7},{"s":"f","x":53.6,"y":180.7},{"s":"f","x":53.3,"y":140.7},{"s":"f","x":52.93,"y":110.7},{"s":"f","x":52.55,"y":97.3},{"s":"f","x":52.18,"y":89},{"s":"f","x":51.88,"y":92.3},{"s":"f","x":51.51,"y":110.7},{"s":"f","x":51.21,"y":140.7},{"s":"f","x":50.91,"y":167},{"s":"f","x":50.69,"y":174},{"s":"f","x":50.46,"y":160.7},{"s":"f","x":50.24,"y":127},{"s":"f","x":49.94,"y":84},{"s":"f","x":49.57,"y":47.3},{"s":"f","x":49.12,"y":32.3},{"s":"f","x":48.67,"y":25.7},{"s":"f","x":48.15,"y":21.3},{"s":"f","x":47.93,"y":19}
]
}
}
